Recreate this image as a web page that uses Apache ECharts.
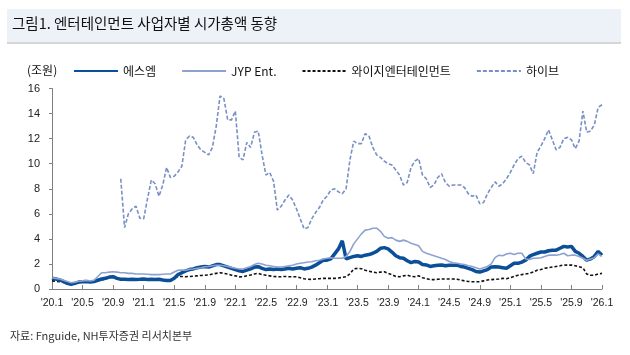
<!DOCTYPE html>
<html>
<head>
<meta charset="utf-8">
<script src="https://cdn.jsdelivr.net/npm/echarts@6/dist/echarts.min.js"></script>
<style>
html,body{margin:0;padding:0;background:#fff;}
#c{width:630px;height:355px;}
</style>
</head>
<body>
<div id="c"></div>
<script>
// Semi-monthly observations: index 0 = 2020-01 (1st half) ... index 144 = 2026-01
const categories = [];
for (let y = 2020; y <= 2026; y++) {
  for (let m = 1; m <= 12; m++) {
    if (y === 2026 && m > 1) break;
    categories.push(y + '-' + String(m).padStart(2, '0') + '-01');
    if (!(y === 2026 && m === 1)) categories.push(y + '-' + String(m).padStart(2, '0') + '-15');
  }
}
const tickLabels = ["'20.1","'20.5","'20.9","'21.1","'21.5","'21.9","'22.1","'22.5","'22.9","'23.1","'23.5","'23.9","'24.1","'24.5","'24.9","'25.1","'25.5","'25.9","'26.1"];

const smValues = [0.85,0.8,0.72,0.6,0.45,0.38,0.45,0.55,0.58,0.6,0.55,0.6,0.7,0.8,0.85,0.95,0.98,0.85,0.78,0.77,
0.75,0.78,0.75,0.77,0.8,0.75,0.78,0.76,0.77,0.72,0.68,0.67,0.85,1.15,1.3,1.45,1.55,1.6,1.7,1.75,
1.8,1.75,1.85,1.95,1.95,1.85,1.75,1.65,1.55,1.45,1.4,1.5,1.6,1.75,1.78,1.65,1.55,1.6,1.55,1.6,
1.55,1.6,1.65,1.6,1.65,1.7,1.6,1.65,1.75,1.9,2.1,2.3,2.3,2.4,2.8,3.2,3.85,2.4,2.5,2.6,
2.65,2.6,2.7,2.75,2.85,3.0,3.25,3.3,3.2,2.95,2.65,2.5,2.45,2.25,2.1,2.2,2.15,1.95,1.92,1.8,
1.85,1.9,1.92,1.85,1.9,1.9,1.9,1.8,1.75,1.65,1.55,1.4,1.35,1.45,1.55,1.75,1.78,1.75,1.7,1.65,
1.85,2.05,2.05,2.15,2.3,2.6,2.75,2.85,2.95,2.95,3.05,3.1,3.1,3.25,3.4,3.35,3.4,3.0,2.85,2.6,
2.3,2.4,2.6,3.0,2.7];

const jypValues = [0.9,0.85,0.8,0.7,0.6,0.5,0.55,0.62,0.65,0.68,0.65,0.7,1.0,1.3,1.3,1.35,1.38,1.35,1.3,1.3,
1.25,1.25,1.2,1.2,1.2,1.18,1.15,1.15,1.15,1.18,1.2,1.2,1.35,1.5,1.52,1.5,1.57,1.6,1.65,1.7,
1.78,1.8,1.85,1.9,1.9,1.85,1.8,1.72,1.65,1.6,1.6,1.7,1.8,1.95,2.05,2.0,1.9,1.85,1.8,1.75,
1.75,1.8,1.85,1.9,2.0,2.05,2.1,2.15,2.18,2.25,2.3,2.4,2.45,2.5,2.45,2.45,2.45,2.6,3.0,3.6,
4.0,4.4,4.7,4.75,4.85,4.85,4.6,4.2,4.05,4.1,3.9,3.8,3.9,3.8,3.65,3.55,3.45,3.0,2.85,2.75,
2.65,2.55,2.45,2.35,2.2,2.1,2.05,2.0,1.95,1.85,1.8,1.7,1.6,1.7,1.8,2.0,2.5,2.7,2.65,2.8,
2.85,2.75,2.85,2.85,2.4,2.35,2.45,2.45,2.5,2.6,2.7,2.7,2.7,2.75,2.85,2.65,2.7,2.7,2.6,2.45,
2.3,2.4,2.5,2.8,2.6];

const ygValues = [0.65,0.62,0.58,0.52,0.48,0.45,0.48,0.52,0.55,0.58,0.6,0.62,0.68,0.72,0.8,0.92,0.98,0.9,0.82,0.8,
0.78,0.75,0.73,0.72,0.72,0.7,0.72,0.72,0.72,0.7,0.68,0.7,0.85,1.0,1.0,0.98,1.0,1.02,1.05,1.08,
1.1,1.12,1.2,1.25,1.3,1.25,1.2,1.1,1.05,0.97,0.98,1.05,1.12,1.2,1.25,1.15,1.1,1.05,1.0,0.98,
0.98,1.0,0.98,0.98,0.98,0.9,0.82,0.78,0.77,0.8,0.82,0.85,0.85,0.85,0.85,0.88,0.92,0.98,1.2,1.6,
1.65,1.62,1.5,1.42,1.35,1.3,1.35,1.38,1.25,1.15,1.0,0.98,1.05,1.1,1.0,0.98,1.05,0.9,0.82,0.75,
0.75,0.78,0.8,0.8,0.8,0.8,0.78,0.72,0.65,0.6,0.58,0.58,0.58,0.65,0.72,0.75,0.77,0.8,0.85,0.82,
0.9,1.0,1.1,1.15,1.2,1.25,1.35,1.5,1.55,1.65,1.7,1.75,1.8,1.85,1.92,1.9,1.92,1.85,1.78,1.7,
1.2,1.1,1.1,1.2,1.25];

const hybeValues = [null,null,null,null,null,null,null,null,null,null,null,null,null,null,null,null,null,null,8.8,4.9,
6.0,6.4,6.6,5.65,5.6,7.2,8.7,8.4,7.4,8.3,9.7,8.9,9.0,9.35,9.8,11.9,12.2,12.1,11.5,11.1,
10.9,10.7,11.3,13.0,15.4,15.2,13.5,13.5,14.2,10.5,10.3,11.7,11.3,12.5,12.6,10.7,9.1,9.3,8.6,6.3,
6.6,7.1,7.5,7.1,6.4,5.6,4.8,4.9,5.6,6.1,6.5,7.1,7.4,7.9,8.0,7.75,7.6,8.0,10.3,11.8,
11.6,11.6,12.4,12.2,11.3,10.7,10.5,10.2,10.0,9.9,9.5,9.1,8.3,8.5,9.7,10.2,10.4,9.1,8.8,8.1,
8.3,8.9,9.2,8.5,8.2,8.3,8.3,8.3,8.1,7.6,7.4,7.5,6.8,6.9,7.6,8.1,8.55,8.2,8.4,8.8,
9.3,9.9,10.4,10.6,10.1,9.9,9.2,10.9,11.4,12.0,12.7,11.9,11.1,11.3,12.0,12.1,11.9,11.2,11.8,14.2,
12.5,12.6,13.1,14.5,14.7];

const seriesNames = ['에스엠', 'JYP Ent.', '와이지엔터테인먼트', '하이브'];

const chart = echarts.init(document.getElementById('c'), null, {renderer: 'canvas'});
const font = '"Liberation Sans", Arial, "Noto Sans CJK KR", sans-serif';
const tickFn = (idx) => idx % 8 === 0;

chart.setOption({
  animation: false,
  backgroundColor: '#ffffff',
  textStyle: {fontFamily: font},
  graphic: [
    {type: 'rect', shape: {x: 7, y: 9, width: 614, height: 33}, style: {fill: '#edf1f8'}, z: 0},
    {type: 'rect', shape: {x: 7, y: 42, width: 614, height: 2}, style: {fill: '#d6d6d6'}, z: 0},
    {type: 'text', left: 12, top: 16, style: {text: '그림1. 엔터테인먼트 사업자별 시가총액 동향', font: '14.5px "Noto Sans CJK KR", sans-serif', fill: '#111111'}},
    {type: 'text', left: 27, top: 64, style: {text: '(조원)', font: '12px "Noto Sans CJK KR", sans-serif', fill: '#111111'}},
    {type: 'text', left: 10, top: 330, style: {text: '자료: Fnguide, NH투자증권 리서치본부', font: '11px "Noto Sans CJK KR", sans-serif', fill: '#333333'}}
  ],
  legend: {
    left: 73, top: 65, padding: 0,
    itemWidth: 44, itemHeight: 12, itemGap: 25,
    itemStyle: {opacity: 0, borderWidth: 0},
    textStyle: {fontSize: 12, color: '#111', fontFamily: '"Noto Sans CJK KR", sans-serif'},
    data: seriesNames
  },
  grid: {left: 52, right: 28, top: 88.5, bottom: 66, containLabel: false},
  xAxis: {
    type: 'category',
    data: categories,
    boundaryGap: false,
    axisLine: {lineStyle: {color: '#808080', width: 1}},
    axisTick: {inside: true, length: 4, interval: tickFn, lineStyle: {color: '#808080'}},
    axisLabel: {
      interval: tickFn, margin: 9, fontSize: 10.5, color: '#222',
      formatter: (v, idx) => tickLabels[idx / 8]
    },
    splitLine: {show: false}
  },
  yAxis: {
    type: 'value', min: 0, max: 16, interval: 2,
    axisLine: {show: true, lineStyle: {color: '#808080', width: 1}},
    axisTick: {show: true, inside: false, length: 3, lineStyle: {color: '#808080'}},
    axisLabel: {fontSize: 11, color: '#222', margin: 12},
    splitLine: {show: false}
  },
  series: [
    {name: seriesNames[0], type: 'line', data: smValues, symbol: 'none', z: 4,
     lineStyle: {color: '#0b4f98', width: 3.5}, itemStyle: {color: '#0b4f98'}},
    {name: seriesNames[1], type: 'line', data: jypValues, symbol: 'none', z: 5,
     lineStyle: {color: '#8ea2d0', width: 1.6}, itemStyle: {color: '#8ea2d0'}},
    {name: seriesNames[2], type: 'line', data: ygValues, symbol: 'none', z: 3,
     lineStyle: {color: '#111111', width: 1.6, type: [3, 2]}, itemStyle: {color: '#111111'}},
    {name: seriesNames[3], type: 'line', data: hybeValues, symbol: 'none', z: 3, connectNulls: false,
     lineStyle: {color: '#7890c6', width: 1.6, type: [4, 2]}, itemStyle: {color: '#7890c6'}}
  ]
});
</script>
</body>
</html>
